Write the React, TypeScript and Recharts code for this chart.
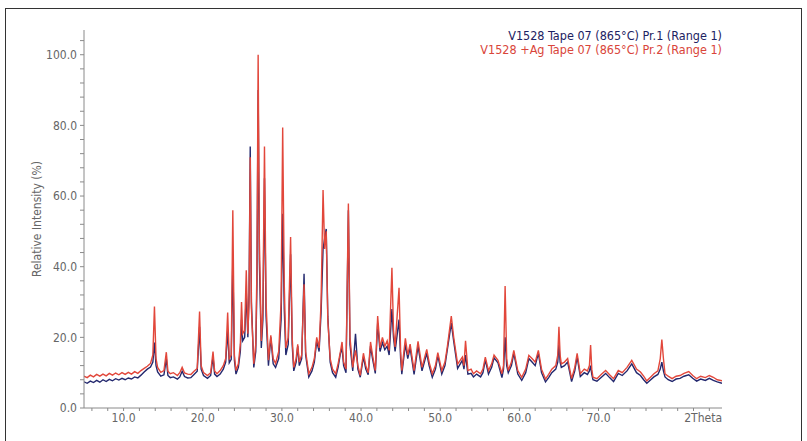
import { LineChart, Line, XAxis, YAxis } from "recharts";

// 2Theta positions (deg) and relative intensities (%)
const twoTheta = [
  5.0, 5.4, 5.8, 6.2, 6.6, 7.0, 7.4, 7.8, 8.2, 8.6,
  9.0, 9.4, 9.8, 10.2, 10.6, 11.0, 11.4, 11.8, 12.2, 12.6,
  13.0, 13.4, 13.7, 13.9, 14.1, 14.3, 14.7, 15.1, 15.4, 15.6,
  15.9, 16.3, 16.8, 17.1, 17.4, 17.7, 18.1, 18.5, 18.9, 19.3,
  19.6, 19.8, 20.1, 20.6, 21.0, 21.3, 21.5, 21.8, 22.2, 22.6,
  22.9, 23.15, 23.35, 23.6, 23.8, 24.0, 24.2, 24.5, 24.75, 24.9,
  25.05, 25.3, 25.5, 25.7, 25.85, 26.0, 26.15, 26.45, 26.7, 26.85,
  27.0, 27.15, 27.4, 27.6, 27.8, 28.0, 28.3, 28.6, 28.9, 29.2,
  29.6, 29.9, 30.1, 30.3, 30.5, 30.8, 31.1, 31.3, 31.5, 31.8,
  32.0, 32.2, 32.5, 32.8, 33.0, 33.4, 33.8, 34.1, 34.4, 34.7,
  34.95, 35.2, 35.4, 35.6, 35.8, 36.1, 36.4, 36.8, 37.1, 37.4,
  37.6, 37.8, 38.1, 38.4, 38.6, 38.95, 39.3, 39.6, 39.9, 40.3,
  40.6, 40.9, 41.2, 41.45, 41.8, 42.1, 42.4, 42.7, 43.0, 43.3,
  43.55, 43.9, 44.1, 44.3, 44.8, 45.0, 45.15, 45.6, 45.9, 46.2,
  46.7, 47.2, 47.7, 48.3, 48.6, 49.0, 49.4, 49.7, 50.2, 50.6,
  50.9, 51.4, 51.7, 52.2, 52.8, 53.0, 53.2, 53.5, 53.9, 54.2,
  54.6, 55.1, 55.4, 55.7, 56.1, 56.5, 56.8, 57.3, 57.8, 58.0,
  58.2, 58.4, 58.6, 59.0, 59.3, 59.8, 60.3, 60.8, 61.2, 61.6,
  62.0, 62.4, 62.8, 63.3, 63.7, 64.1, 64.6, 64.85, 65.0, 65.15,
  65.3, 65.7, 66.1, 66.6, 67.0, 67.3, 67.7, 68.2, 68.6, 68.85,
  69.0, 69.15, 69.3, 69.8, 70.4, 70.9, 71.4, 71.9, 72.5, 73.0,
  73.6, 74.2, 74.8, 75.3, 75.7, 76.1, 76.6, 77.0, 77.5, 77.8,
  78.0, 78.2, 78.4, 78.8, 79.3, 79.8, 80.3, 80.8, 81.4, 81.9,
  82.4, 82.9, 83.5, 84.0, 84.5, 85.0, 85.6,
];

// V1528 Tape 07 (865°C) Pr.1
const pr1 = [
  7.4, 7.0, 7.6, 7.2, 7.8, 7.3, 8.0, 7.5, 8.1, 7.7,
  8.3, 7.9, 8.4, 8.0, 8.5, 8.2, 8.8, 8.5, 9.3, 10.2,
  11.0, 11.6, 13.0, 18.5, 12.0, 10.2, 9.0, 9.4, 14.0, 9.2,
  8.6, 8.8, 8.2, 8.8, 10.4, 8.9, 8.5, 8.6, 9.5, 10.4,
  23.0, 11.0, 9.2, 8.4, 9.2, 14.5, 9.6, 8.9, 9.6, 11.0,
  13.0, 22.0, 12.8, 13.8, 42.0, 13.5, 9.6, 11.5, 16.0, 25.0,
  19.0, 20.0, 33.0, 20.0, 32.0, 74.0, 30.0, 11.5, 16.0, 35.0,
  90.0, 42.0, 17.0, 25.0, 65.0, 26.0, 12.0, 20.0, 12.5, 11.5,
  14.0, 25.0, 55.0, 28.0, 15.0, 18.0, 43.5, 18.0, 10.5, 13.0,
  17.5, 12.0, 14.0, 38.0, 15.0, 8.8, 10.5, 13.0, 19.0, 16.0,
  27.0, 45.0, 48.0, 50.7, 26.0, 13.0, 10.0, 8.7, 11.5, 15.5,
  17.0, 12.0, 10.0, 56.0, 18.0, 10.5, 21.0, 11.0, 8.7, 14.5,
  11.0, 9.4, 17.5, 14.0, 9.8, 24.0, 16.0, 18.5, 16.5, 17.5,
  15.0, 28.0, 20.0, 16.0, 25.0, 14.0, 9.6, 18.0, 14.0, 17.0,
  9.5, 17.5, 10.5, 15.5, 12.0, 8.7, 11.0, 14.8, 9.6, 12.0,
  16.5, 24.0, 19.0, 11.2, 13.5, 11.0, 15.0, 9.6, 9.8, 8.8,
  9.6, 8.8, 10.0, 13.6, 9.6, 11.5, 14.2, 12.8, 8.6, 11.0,
  20.0, 12.0, 10.0, 12.0, 15.5, 9.6, 7.8, 10.0, 14.0, 13.0,
  12.0, 15.5, 10.0, 7.4, 8.6, 10.0, 11.0, 13.0, 18.0, 13.0,
  11.5, 12.0, 13.0, 7.5, 10.5, 14.5, 8.9, 10.0, 9.5, 10.5,
  12.0, 9.5, 8.0, 7.6, 8.8, 9.8, 8.6, 7.5, 9.8, 9.2,
  10.5, 12.5, 10.0, 9.2, 8.0, 7.0, 8.0, 8.8, 9.5, 11.0,
  13.0, 10.5, 8.8, 8.0, 7.5, 8.2, 8.4, 9.0, 9.4, 8.4,
  7.6, 8.2, 7.8, 8.4, 7.8, 7.4, 7.0,
];

// V1528 +Ag Tape 07 (865°C) Pr.2
const pr2 = [
  9.0, 8.6, 9.3, 8.8, 9.5, 9.0, 9.6, 9.1, 9.8, 9.3,
  9.9, 9.4, 10.0, 9.5, 10.1, 9.6, 10.3, 9.8, 10.6, 11.2,
  11.8, 12.6, 15.0, 28.7, 14.0, 11.5, 10.1, 10.6, 15.8, 10.4,
  9.7, 10.0, 9.2, 10.0, 11.5, 9.9, 9.6, 9.5, 10.4, 11.2,
  27.3, 12.0, 10.0, 9.2, 10.0, 16.0, 10.5, 9.7, 10.6, 12.0,
  14.0, 27.0, 14.0, 15.0, 56.0, 15.0, 10.6, 12.5, 18.0, 30.0,
  21.0, 22.0, 39.0, 21.0, 30.0, 71.0, 28.0, 12.5, 18.0, 40.0,
  100.0, 48.0, 19.0, 28.0, 74.0, 30.0, 13.5, 20.6, 14.0, 12.6,
  16.0, 30.0, 79.4, 35.0, 17.0, 20.0, 48.4, 20.0, 11.5, 14.0,
  18.0, 13.0, 15.0, 35.0, 16.0, 9.7, 11.5, 14.0, 20.0, 17.0,
  30.0, 61.7, 45.0, 50.0, 25.0, 14.0, 11.0, 9.7, 12.5, 16.0,
  18.7, 13.0, 11.0, 57.9, 20.0, 11.5, 16.3, 12.0, 9.2, 15.5,
  12.0, 10.0, 18.7, 15.0, 10.6, 26.0, 17.0, 20.0, 17.5, 19.0,
  16.3, 39.7, 22.0, 17.3, 34.0, 16.0, 10.6, 19.7, 15.0, 18.1,
  10.6, 18.9, 11.5, 16.6, 13.0, 9.7, 12.0, 15.7, 10.6, 13.0,
  17.3, 26.0, 20.1, 12.4, 14.4, 12.0, 19.0, 10.6, 11.0, 9.7,
  10.5, 9.7, 11.0, 14.4, 10.6, 12.5, 15.0, 13.5, 9.7, 12.0,
  34.5, 14.0, 10.6, 13.0, 16.3, 10.6, 8.7, 11.0, 14.9, 14.0,
  13.0, 16.3, 11.0, 8.2, 9.5, 11.0, 12.0, 15.0, 23.0, 15.0,
  12.5, 13.0, 14.0, 8.3, 11.5, 15.5, 9.7, 11.0, 10.5, 12.0,
  17.8, 11.0, 8.7, 8.3, 9.6, 10.6, 9.4, 8.3, 10.6, 10.0,
  11.5, 13.5, 11.0, 10.2, 9.0, 7.7, 8.8, 9.7, 10.5, 14.0,
  19.4, 14.0, 9.7, 9.0, 8.3, 9.0, 9.2, 9.8, 10.3, 9.2,
  8.3, 9.0, 8.6, 9.2, 8.7, 8.0, 7.7,
];

const xTicks = [6, 8, 10, 12, 14, 16, 18, 20, 22, 24, 26, 28, 30, 32, 34, 36, 38, 40, 42, 44, 46, 48, 50, 52, 54, 56, 58, 60, 62, 64, 66, 68, 70, 72, 74, 76, 78, 80, 82, 84];
const yTicks = [0, 4, 8, 12, 16, 20, 24, 28, 32, 36, 40, 44, 48, 52, 56, 60, 64, 68, 72, 76, 80, 84, 88, 92, 96, 100, 104];

const legendLines = [
  { text: "V1528 Tape 07 (865°C) Pr.1 (Range 1)", color: "#1c2262" },
  { text: "V1528 +Ag Tape 07 (865°C) Pr.2 (Range 1)", color: "#d9453a" },
];

const data = twoTheta.map((t, i) => ({ t, pr1: pr1[i], pr2: pr2[i] }));

const FONT = "'Liberation Sans Narrow', 'DejaVu Sans Condensed', Arial, sans-serif";
const AXIS = "#8a8a8a";
const TEXT = "#666";

export default function App() {
  return (
    <div style={{ position: "absolute", left: 0, top: 0, width: 807, height: 441, overflow: "hidden", background: "#fff", fontFamily: FONT }}>
      <div style={{ position: "absolute", left: 5, top: 8, width: 795, height: 460, border: "1px solid #333" }} />
      <div style={{ position: "absolute", right: 85, top: 29, textAlign: "right", fontSize: 12.5, lineHeight: "14px", whiteSpace: "pre" }}>
        {legendLines.map((l) => (
          <div key={l.text} style={{ color: l.color }}>{l.text}</div>
        ))}
      </div>
      <div style={{ position: "absolute", left: 0, top: 0 }}>
        <LineChart width={807} height={441} data={data} margin={{ top: 30, right: 85, left: 0, bottom: 0 }}>
          <XAxis
            dataKey="t"
            type="number"
            domain={[5, 85.6]}
            ticks={xTicks}
            allowDataOverflow
            height={33}
            stroke={AXIS}
            tickSize={3}
            tickMargin={2}
            interval={0}
            tick={{ fontSize: 12, fill: TEXT, fontFamily: FONT }}
            tickFormatter={(v: number) => (v % 10 === 0 && v <= 70 ? v.toFixed(1) : "")}
            label={{
              content: (p: any) => {
                const vb = p.viewBox || {};
                return (
                  <text x={vb.x + vb.width} y={vb.y + 14} textAnchor="end" fontSize={12} fill={TEXT} fontFamily={FONT}>
                    2Theta
                  </text>
                );
              },
            }}
          />
          <YAxis
            type="number"
            domain={[0, 107]}
            ticks={yTicks}
            allowDataOverflow
            width={84}
            stroke={AXIS}
            tickSize={4}
            tickMargin={3}
            interval={0}
            tick={{ fontSize: 12, fill: TEXT, fontFamily: FONT }}
            tickFormatter={(v: number) => (v % 20 === 0 ? v.toFixed(1) : "")}
            label={{
              content: (p: any) => {
                const vb = p.viewBox || {};
                const cy = vb.y + vb.height / 2;
                return (
                  <text x={37} y={cy} transform={`rotate(-90, 37, ${cy})`} textAnchor="middle" dominantBaseline="middle" fontSize={12} fill={TEXT} fontFamily={FONT}>
                    Relative Intensity (%)
                  </text>
                );
              },
            }}
          />
          <Line type="linear" dataKey="pr1" stroke="#23286e" strokeWidth={1.4} dot={false} isAnimationActive={false} />
          <Line type="linear" dataKey="pr2" stroke="#e2473b" strokeWidth={1.4} dot={false} isAnimationActive={false} />
        </LineChart>
      </div>
    </div>
  );
}
